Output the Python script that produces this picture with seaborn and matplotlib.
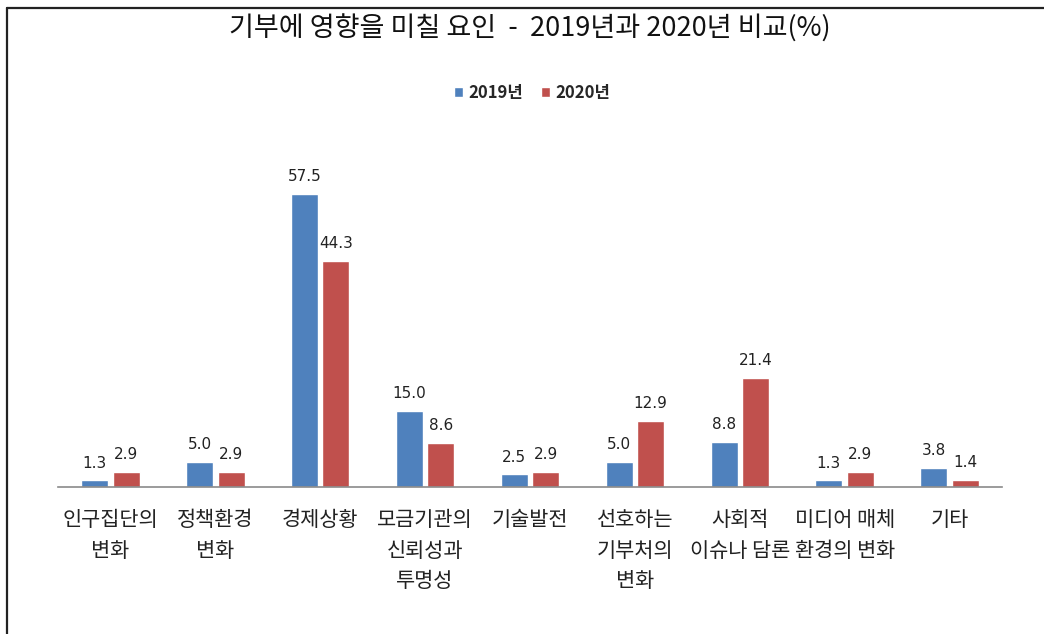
import pandas as pd
import matplotlib.pyplot as plt
import seaborn as sns
from matplotlib.lines import Line2D

sns.set_theme(style="white")
plt.rcParams['font.family'] = ['Noto Sans CJK KR', 'DejaVu Sans']

# data
categories = ['인구집단의\n변화', '정책환경\n변화', '경제상황', '모금기관의\n신뢰성과\n투명성',
              '기술발전', '선호하는\n기부처의\n변화', '사회적\n이슈나 담론',
              '미디어 매체\n환경의 변화', '기타']
years = ['2019년', '2020년']
values_2019 = [1.3, 5.0, 57.5, 15.0, 2.5, 5.0, 8.8, 1.3, 3.8]
values_2020 = [2.9, 2.9, 44.3, 8.6, 2.9, 12.9, 21.4, 2.9, 1.4]

df = pd.DataFrame({
    'category': categories * 2,
    'year': [years[0]] * len(categories) + [years[1]] * len(categories),
    'value': values_2019 + values_2020,
})

W, H = 1044, 634
fig = plt.figure(figsize=(W / 100, H / 100), dpi=100)
ax = fig.add_axes([58 / W, 1 - 487 / H, (1002 - 58) / W, 357 / H])

sns.barplot(data=df, x='category', y='value', hue='year', order=categories,
            hue_order=years, palette=['#4F81BD', '#C0504D'], width=0.6, gap=0.14,
            saturation=1, ax=ax)

for c in ax.containers:
    ax.bar_label(c, fmt='%.1f', padding=7, fontsize=11, color='#222222',
                 family='DejaVu Sans')

ax.set_ylim(0, 70)
ax.set_xlim(-0.5, len(categories) - 0.5)
ax.set_xlabel('')
ax.set_ylabel('')
ax.set_yticks([])
ax.tick_params(axis='x', length=0, pad=16, labelsize=15, labelcolor='#222222')
for lbl in ax.get_xticklabels():
    lbl.set_linespacing(1.5)
    lbl.set_verticalalignment('top')
for side in ['left', 'right', 'top']:
    ax.spines[side].set_visible(False)
ax.spines['bottom'].set_color('#8a8a8a')
ax.spines['bottom'].set_linewidth(1.2)

handles, labels = ax.get_legend_handles_labels()
ax.legend(handles, labels, loc='center', bbox_to_anchor=(532 / W, 1 - 93 / H),
          bbox_transform=fig.transFigure, ncol=2, frameon=False,
          handlelength=0.55, handleheight=0.55, handletextpad=0.3,
          columnspacing=1.1, prop={'size': 12, 'weight': 'bold'})

fig.text(530 / W, 1 - 29 / H, '기부에 영향을 미칠 요인  -  2019년과 2020년 비교(%)',
         ha='center', va='center', fontsize=19.5, color='#111111')

# outer frame: left and top lines
fig.add_artist(Line2D([7 / W, 7 / W], [0, 1 - 8 / H], transform=fig.transFigure,
                      color='#222222', linewidth=1.6))
fig.add_artist(Line2D([7 / W, 1], [1 - 8 / H, 1 - 8 / H], transform=fig.transFigure,
                      color='#222222', linewidth=1.6))

fig.savefig('out.png', dpi=100)
plt.close(fig)
